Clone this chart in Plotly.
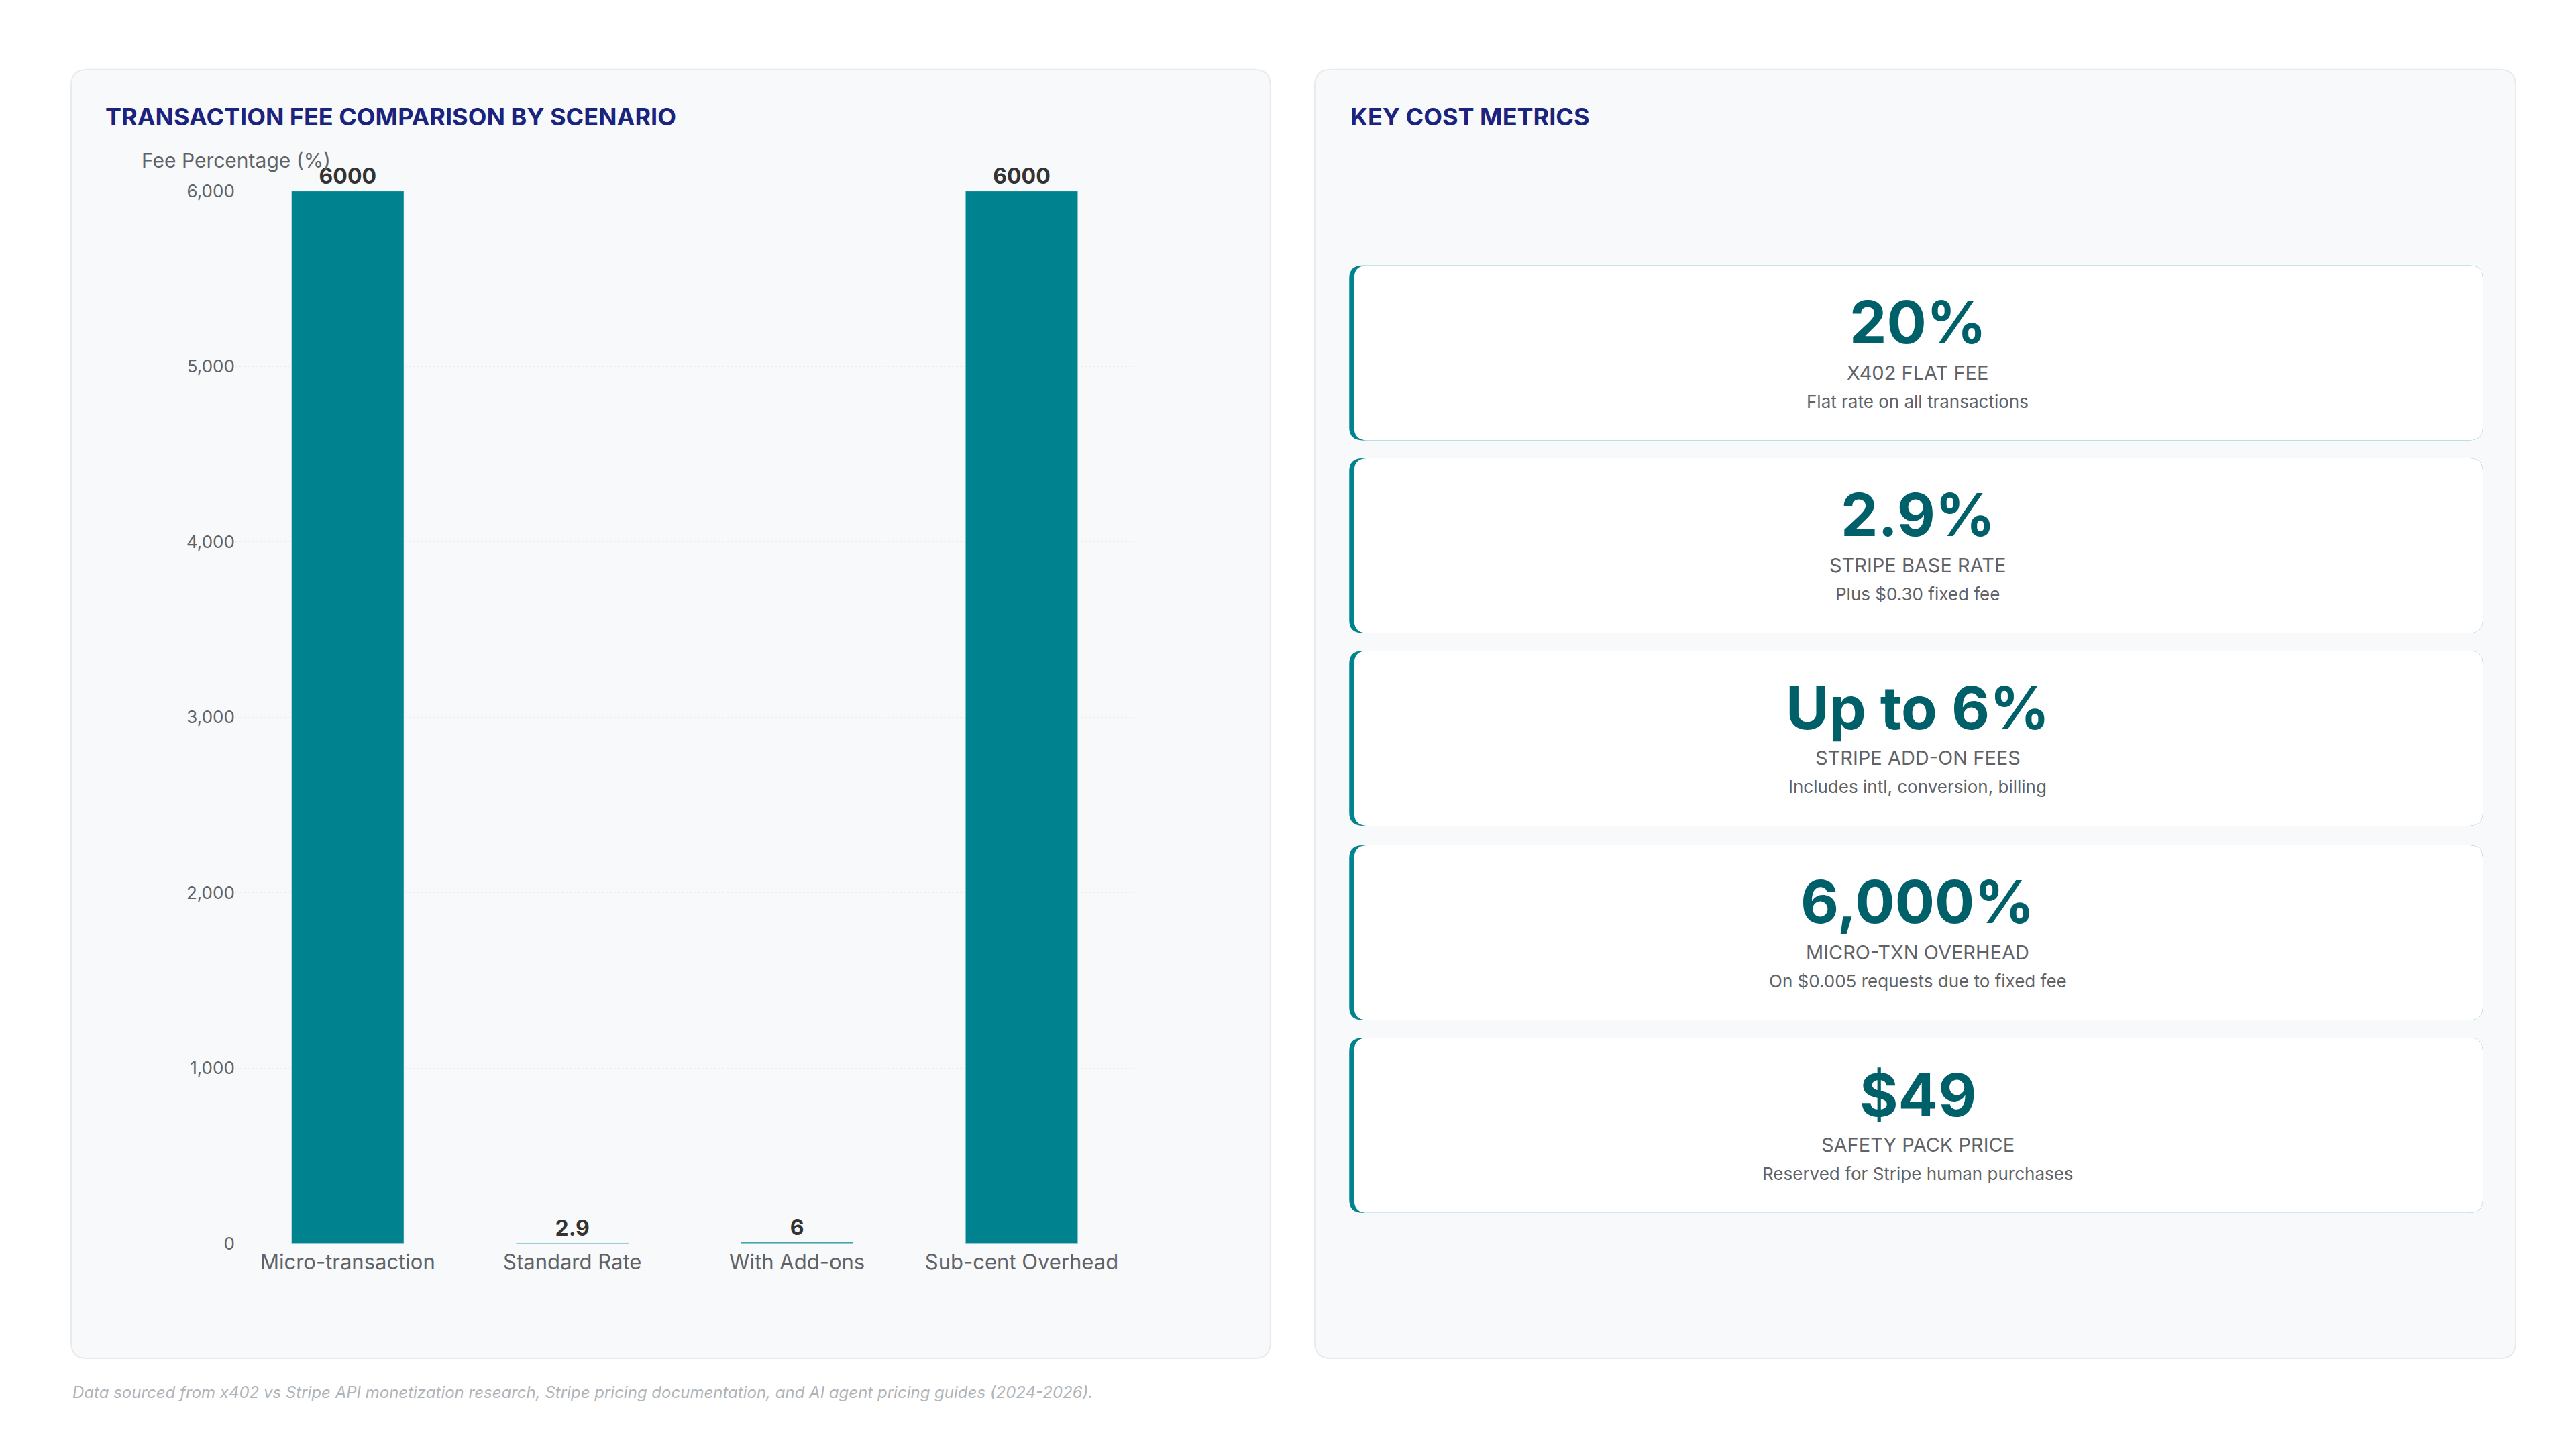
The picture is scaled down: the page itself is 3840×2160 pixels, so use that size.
import plotly.graph_objects as go

W, H = 3840, 2160
S = W / 1568  # reference drawn at ~1568 px wide

scenarios = ["Micro-transaction", "Standard Rate", "With Add-ons", "Sub-cent Overhead"]
fee_pct = [6000, 2.9, 6, 6000]
y_ticks = [0, 1000, 2000, 3000, 4000, 5000, 6000]

metric_values = ["20%", "2.9%", "Up to 6%", "6,000%", "$49"]
metric_labels = ["X402 FLAT FEE", "STRIPE BASE RATE", "STRIPE ADD-ON FEES",
                 "MICRO-TXN OVERHEAD", "SAFETY PACK PRICE"]
metric_notes = ["Flat rate on all transactions", "Plus $0.30 fixed fee",
                "Includes intl, conversion, billing",
                "On $0.005 requests due to fixed fee",
                "Reserved for Stripe human purchases"]

FONT = "Inter"
TEAL = "#00838f"
DARK_TEAL = "#00606a"
NAVY = "#1a237e"
GRAY = "#5f6368"


def px_x(v):
    return v / 1568


def px_y(v):
    return 1 - v / 882


def rounded(x0, y0, x1, y1, r, fill, line="rgba(0,0,0,0)", lw=0):
    # coordinates in reference px, top-left origin
    rx, ry = r / 1568, r / 882
    a, b, c, d = px_x(x0), px_y(y0), px_x(x1), px_y(y1)
    path = (f"M{a+rx},{b} L{c-rx},{b} Q{c},{b} {c},{b-ry} L{c},{d+ry} Q{c},{d} {c-rx},{d} "
            f"L{a+rx},{d} Q{a},{d} {a},{d+ry} L{a},{b-ry} Q{a},{b} {a+rx},{b} Z")
    return dict(type="path", path=path, xref="paper", yref="paper", fillcolor=fill,
                line=dict(color=line, width=lw), layer="below")


fig = go.Figure()
fig.add_trace(go.Bar(
    x=scenarios, y=fee_pct, marker_color=TEAL,
    text=[f"{v:g}" for v in fee_pct], textposition="outside", cliponaxis=False,
    textfont=dict(family=FONT, size=32, color="#333333", weight="bold"),
))

shapes = [
    rounded(40, 33, 770, 829, 10, "#f8f9fb", "#e8eaed", 2),
    rounded(797, 33, 1528, 829, 10, "#f8f9fb", "#e8eaed", 2),
]
annotations = [
    dict(text="TRANSACTION FEE COMPARISON BY SCENARIO", x=px_x(60), y=px_y(62),
         xanchor="left", yanchor="middle", font=dict(size=36, color=NAVY, weight="bold")),
    dict(text="KEY COST METRICS", x=px_x(818), y=px_y(62),
         xanchor="left", yanchor="middle", font=dict(size=36, color=NAVY, weight="bold")),
    dict(text="Fee Percentage (%)", x=px_x(82), y=px_y(89),
         xanchor="left", yanchor="middle", font=dict(size=30, color=GRAY)),
    dict(text="Data sourced from x402 vs Stripe API monetization research, Stripe pricing documentation, "
              "and AI agent pricing guides (2024-2026).",
         x=px_x(40), y=px_y(850), xanchor="left", yanchor="middle",
         font=dict(size=24, color="#b0b4b8", style="italic")),
]

card_tops = [154, 273, 392, 512, 631]
for top, val, lab, note in zip(card_tops, metric_values, metric_labels, metric_notes):
    bot = top + 108
    shapes.append(rounded(818, top, 1508, bot, 8, TEAL))
    shapes.append(rounded(821, top, 1508, bot, 8, "#ffffff"))
    cx = px_x(1164)
    annotations += [
        dict(text=val, x=cx, y=px_y(top + 35), xanchor="center", yanchor="middle",
             font=dict(size=88, color=DARK_TEAL, weight="bold")),
        dict(text=lab, x=cx, y=px_y(top + 66), xanchor="center", yanchor="middle",
             font=dict(size=29, color=GRAY)),
        dict(text=note, x=cx, y=px_y(top + 84), xanchor="center", yanchor="middle",
             font=dict(size=26, color=GRAY)),
    ]
for a in annotations:
    a.update(xref="paper", yref="paper", showarrow=False)
    a["font"].setdefault("family", FONT)

fig.update_layout(
    width=W, height=H, paper_bgcolor="#ffffff", plot_bgcolor="rgba(0,0,0,0)",
    margin=dict(l=0, r=0, t=0, b=0), showlegend=False, bargap=0.5,
    font=dict(family=FONT, color=GRAY),
    shapes=shapes, annotations=annotations,
    xaxis=dict(domain=[px_x(140), px_x(687)], showline=True, linecolor="#e8eaed",
               tickfont=dict(size=31, color=GRAY), ticks=""),
    yaxis=dict(domain=[px_y(758), px_y(108)], range=[0, 6000], tickvals=y_ticks,
               tickformat=",", tickfont=dict(size=26, color=GRAY),
               gridcolor="#eceef0", griddash="dot", zeroline=False),
)

fig.write_html("out.html")
